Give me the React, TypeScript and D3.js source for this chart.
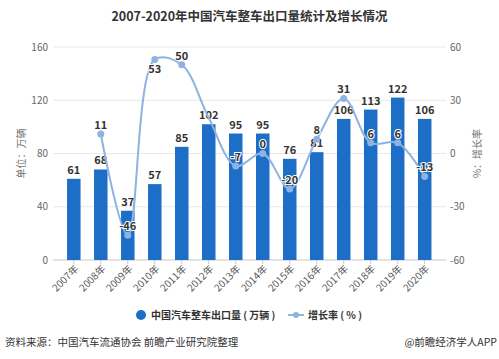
import React from 'react';
import * as d3 from 'd3';

const years = ['2007年', '2008年', '2009年', '2010年', '2011年', '2012年', '2013年',
  '2014年', '2015年', '2016年', '2017年', '2018年', '2019年', '2020年'];
// 出口量（万辆）
const exports = [61, 68, 37, 57, 85, 102, 95, 95, 76, 81, 106, 113, 122, 106];
// 增长率（%）
const growth: (number | null)[] = [null, 11, -46, 53, 50, 20, -7, 0, -20, 8, 31, 6, 6, -13];
// growth points whose marker/label are covered in the original
const hiddenGrowth = ['2012年'];

const leftTicks = [0, 40, 80, 120, 160];
const rightTicks = [-60, -30, 0, 30, 60];

const W = 499;
const H = 359;
const font = '"Noto Sans CJK SC", "Noto Sans", sans-serif';
const barColor = '#1c6ec6';
const lineColor = '#8fb3e0';

export default function App() {
  const margin = { top: 47, bottom: 260, left: 53, right: 446 };

  const x = d3.scalePoint<string>().domain(years).range([73.8, 424.7]);
  const step = x.step();
  const barW = step * 0.5;

  const y = d3.scaleLinear().domain([0, 160]).range([margin.bottom, margin.top]);
  const y2 = d3.scaleLinear().domain([-60, 60]).range([margin.bottom, margin.top]);

  const pts = years
    .map((yr, i) => ({ yr, v: growth[i] }))
    .filter(d => d.v !== null) as { yr: string; v: number }[];

  const line = d3.line<{ yr: string; v: number }>()
    .x(d => x(d.yr) as number)
    .y(d => y2(d.v))
    .curve(d3.curveCatmullRom.alpha(0.5));

  return (
    <svg width={W} height={H} style={{ position: 'absolute', left: 0, top: 0, background: '#fff' }}
      fontFamily={font}>
      <text x={W / 2} y={21} textAnchor="middle" fontSize={12.5} fontWeight="bold" fill="#333">
        2007-2020年中国汽车整车出口量统计及增长情况
      </text>

      {/* grid */}
      {leftTicks.map(t => (
        <line key={t} x1={margin.left} x2={margin.right} y1={y(t)} y2={y(t)}
          stroke={t === 0 ? '#c8c8c8' : '#e8e8e8'} strokeWidth={1} />
      ))}
      {leftTicks.map(t => (
        <text key={t} x={48} y={y(t)} dy="0.35em" textAnchor="end" fontSize={10} fill="#666">{t}</text>
      ))}
      {rightTicks.map(t => (
        <text key={t} x={450} y={y2(t)} dy="0.35em" textAnchor="start" fontSize={10} fill="#666">{t}</text>
      ))}

      <text transform={`translate(21,${(margin.top + margin.bottom) / 2}) rotate(-90)`}
        textAnchor="middle" dy="0.35em" fontSize={10} fill="#777">单位：万辆</text>
      <text transform={`translate(477,${(margin.top + margin.bottom) / 2}) rotate(-90)`}
        textAnchor="middle" dy="0.35em" fontSize={10} fill="#777">%：增长率</text>

      {/* x ticks and labels */}
      {years.map(yr => (
        <g key={yr}>
          <line x1={x(yr)} x2={x(yr)} y1={margin.bottom} y2={margin.bottom + 4} stroke="#c8c8c8" />
          <text transform={`translate(${(x(yr) as number) + 3},${margin.bottom + 7}) rotate(-45)`}
            textAnchor="end" dy="0.35em" fontSize={10} fill="#555">{yr}</text>
        </g>
      ))}

      {/* bars */}
      {years.map((yr, i) => (
        <rect key={yr} x={(x(yr) as number) - barW / 2} y={y(exports[i])} width={barW}
          height={margin.bottom - y(exports[i])} fill={barColor} />
      ))}
      {years.map((yr, i) => (
        <text key={yr} x={x(yr)} y={y(exports[i]) - 5} textAnchor="middle" fontSize={11}
          fontWeight="bold" fill="#333">{exports[i]}</text>
      ))}

      {/* growth line */}
      <path d={line(pts) || ''} fill="none" stroke={lineColor} strokeWidth={2} />
      {pts.filter(d => !hiddenGrowth.includes(d.yr)).map(d => (
        <circle key={d.yr} cx={x(d.yr)} cy={y2(d.v)} r={3.5} fill={lineColor} />
      ))}
      {pts.filter(d => !hiddenGrowth.includes(d.yr)).map(d => {
        const below = y2(d.v) - 9 < margin.top + 6;
        return (
          <text key={d.yr} x={x(d.yr)} y={y2(d.v) + (below ? 10 : -9)} dy="0.35em" textAnchor="middle"
            fontSize={11} fontWeight="bold" fill="#333" stroke="#fff" strokeWidth={2}
            style={{ paintOrder: 'stroke' }}>{d.v}</text>
        );
      })}

      {/* legend */}
      <circle cx={141} cy={315} r={5} fill={barColor} />
      <text x={151} y={315} dy="0.35em" fontSize={10} fontWeight="bold" fill="#333">中国汽车整车出口量 ( 万辆 )</text>
      <line x1={288} x2={304} y1={315} y2={315} stroke={lineColor} strokeWidth={2} />
      <circle cx={296} cy={315} r={3} fill={lineColor} />
      <text x={308} y={315} dy="0.35em" fontSize={10} fontWeight="bold" fill="#333">增长率 ( % )</text>

      {/* source */}
      <text x={5} y={342} dy="0.35em" fontSize={10.5} fill="#333">资料来源：中国汽车流通协会 前瞻产业研究院整理</text>
      <text x={497} y={342} dy="0.35em" textAnchor="end" fontSize={10.5} fill="#333">@前瞻经济学人APP</text>
    </svg>
  );
}
